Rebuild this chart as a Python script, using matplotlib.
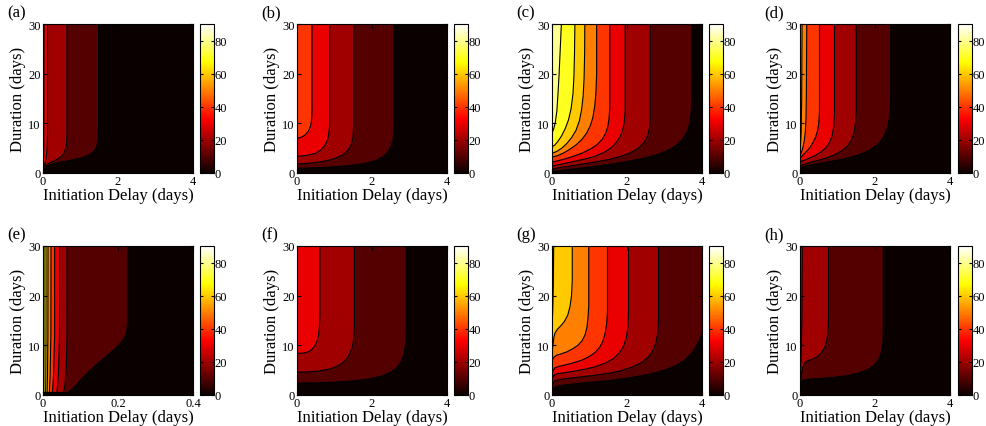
# Эффективность лечения в зависимости от задержки начала и длительности:
# восемь панелей с заливкой контуров (a)-(h), у каждой своя цветовая шкала.

import matplotlib.pyplot as plt
from matplotlib.cm import ScalarMappable
from matplotlib.colors import Normalize

plt.rcParams["font.family"] = ["Liberation Serif", "DejaVu Serif"]

# --- Данные: границы контуров (уровни 10, 20, ...) ---
panel_names = ["(a)", "(b)", "(c)", "(d)", "(e)", "(f)", "(g)", "(h)"]
x_max = [4, 4, 4, 4, 0.4, 4, 4, 4]
x_ticks = [[0, 2, 4]] * 4 + [[0, 0.2, 0.4]] + [[0, 2, 4]] * 3
x_tick_labels = [["0", "2", "4"]] * 4 + [["0", "0.2", "0.4"]] + [["0", "2", "4"]] * 3
y_ticks = [0, 10, 20, 30]
cbar_ticks = [0, 20, 40, 60, 80]

a_levels = [10, 20, 30, 40]
a_x = [[1.48, 1.48, 1.47, 1.44, 1.38, 1.25, 1.0, 0.7, 0.4, 0.2, 0.08, 0],
       [0.64, 0.64, 0.63, 0.60, 0.54, 0.45, 0.32, 0.2, 0.1, 0.03, 0],
       [0.12, 0.12, 0.11, 0.09, 0.06, 0.03, 0],
       [0.027, 0.02, 0.01, 0]]
a_y = [[30, 9, 7, 5.5, 4.5, 3.7, 3.0, 2.5, 2.1, 1.7, 1.2, 0.6],
       [30, 8, 6, 4.8, 3.8, 3.1, 2.5, 2.1, 1.7, 1.3, 1.0],
       [30, 8, 5, 3.5, 2.2, 1.6, 1.2],
       [30, 5, 2.5, 1.4]]

b_levels = [10, 20, 30, 40]
b_x = [[2.59, 2.59, 2.57, 2.52, 2.42, 2.29, 2.1, 1.8, 1.4, 1.0, 0.5, 0],
       [1.51, 1.51, 1.49, 1.44, 1.35, 1.21, 1.0, 0.8, 0.5, 0.2, 0],
       [0.87, 0.87, 0.85, 0.81, 0.74, 0.63, 0.5, 0.36, 0.2, 0],
       [0.40, 0.40, 0.395, 0.38, 0.35, 0.30, 0.22, 0.14, 0.07, 0]]
b_y = [[30, 9.5, 7, 5.5, 4.2, 3.3, 2.5, 1.9, 1.5, 1.25, 1.05, 0.95],
       [30, 9, 7, 5.6, 4.5, 3.6, 2.9, 2.5, 2.1, 1.9, 1.8],
       [30, 10, 8, 6.6, 5.5, 4.6, 4.0, 3.7, 3.5, 3.35],
       [30, 13, 11.5, 10.2, 9.2, 8.4, 7.7, 7.3, 7.1, 7.0]]

c_levels = [10, 20, 30, 40, 50, 60, 70, 80]
c_x = [[3.73, 3.73, 3.71, 3.66, 3.58, 3.46, 3.3, 3.1, 2.8, 2.4, 2.0, 1.5, 1.0, 0.6, 0.25, 0],
       [2.62, 2.62, 2.6, 2.55, 2.46, 2.32, 2.1, 1.86, 1.5, 1.14, 0.8, 0.5, 0.25, 0.1, 0],
       [1.95, 1.95, 1.93, 1.89, 1.82, 1.72, 1.58, 1.4, 1.15, 0.9, 0.6, 0.35, 0.15, 0.05, 0],
       [1.54, 1.54, 1.52, 1.49, 1.43, 1.34, 1.2, 1.02, 0.8, 0.58, 0.38, 0.2, 0.07, 0],
       [1.19, 1.19, 1.17, 1.14, 1.09, 1.02, 0.92, 0.79, 0.63, 0.46, 0.3, 0.15, 0.05, 0],
       [0.875, 0.87, 0.855, 0.83, 0.79, 0.73, 0.64, 0.52, 0.39, 0.26, 0.14, 0.05, 0],
       [0.61, 0.60, 0.585, 0.56, 0.51, 0.44, 0.35, 0.25, 0.15, 0.07, 0],
       [0.25, 0.22, 0.19, 0.16, 0.13, 0.09, 0.05, 0]]
c_y = [[30, 15, 12, 9.6, 8, 6.6, 5.5, 4.6, 3.7, 2.9, 2.3, 1.7, 1.2, 0.85, 0.55, 0.3],
       [30, 11, 9, 7.5, 6.2, 5.1, 4.1, 3.4, 2.7, 2.2, 1.8, 1.45, 1.15, 0.95, 0.8],
       [30, 12.5, 10.5, 8.8, 7.4, 6.2, 5.1, 4.2, 3.4, 2.85, 2.35, 1.95, 1.65, 1.45, 1.35],
       [30, 13, 11, 9.4, 8, 6.8, 5.7, 4.8, 4.0, 3.4, 2.9, 2.55, 2.3, 2.2],
       [30, 20, 16, 13.5, 11.2, 9.5, 8, 6.7, 5.6, 4.7, 4.0, 3.5, 3.3, 3.2],
       [30, 24, 19, 15.5, 12.8, 10.5, 8.6, 7.1, 5.9, 5.0, 4.4, 4.1, 4.0],
       [30, 24, 19.5, 16, 13, 10.7, 8.9, 7.4, 6.3, 5.6, 5.3],
       [30, 25, 20, 16, 12.5, 10.3, 9, 8]]

d_levels = [10, 20, 30, 40, 50, 60]
d_x = [[2.42, 2.42, 2.41, 2.38, 2.32, 2.22, 2.07, 1.85, 1.55, 1.2, 0.8, 0.45, 0.2, 0.05, 0],
       [1.50, 1.50, 1.48, 1.44, 1.37, 1.26, 1.1, 0.9, 0.65, 0.4, 0.2, 0.07, 0],
       [0.92, 0.92, 0.9, 0.86, 0.79, 0.69, 0.55, 0.4, 0.25, 0.12, 0.04, 0],
       [0.52, 0.52, 0.50, 0.47, 0.42, 0.35, 0.27, 0.18, 0.1, 0.04, 0],
       [0.18, 0.17, 0.16, 0.14, 0.11, 0.07, 0.03, 0],
       [0.054, 0.045, 0.03, 0.01, 0]]
d_y = [[30, 16, 13, 10.8, 8.8, 7.1, 5.7, 4.6, 3.6, 2.9, 2.3, 1.85, 1.5, 1.2, 1.0],
       [30, 12.5, 10, 8.1, 6.6, 5.4, 4.4, 3.6, 2.9, 2.4, 2.0, 1.65, 1.4],
       [30, 12, 9.5, 7.6, 6.2, 5.1, 4.2, 3.5, 3.0, 2.6, 2.35, 2.2],
       [30, 12.5, 10, 8.6, 7.3, 6.2, 5.2, 4.4, 3.8, 3.3, 2.9],
       [30, 16, 11, 8.2, 6.3, 4.9, 4.0, 3.6],
       [30, 15, 8, 5, 4.3]]

e_levels = [10, 20, 30, 40, 50, 60, 70, 80]
e_x = [[0.226, 0.226, 0.224, 0.219, 0.21, 0.196, 0.178, 0.158, 0.138, 0.118, 0.1, 0.085,
        0.074, 0.066, 0],
       [0.064, 0.064, 0.062, 0.058, 0.054, 0],
       [0.0444, 0.044, 0.041, 0.037, 0],
       [0.031, 0.031, 0.028, 0.025, 0],
       [0.0213, 0.021, 0.019, 0.017, 0],
       [0.0133, 0.013, 0.012, 0.011, 0],
       [0.008, 0.008, 0.0075, 0.007, 0],
       [0.0027, 0.0027, 0.0025, 0.0023, 0]]
e_y = [[30, 15, 13, 11.8, 10.7, 9.6, 8.4, 7.1, 5.8, 4.4, 3.0, 1.7, 0.9, 0.5, 0.5],
       [30, 12, 5, 1.6, 0.5, 0.5],
       [30, 12, 4, 0.5, 0.5],
       [30, 12, 4, 0.5, 0.5],
       [30, 12, 4, 0.5, 0.5],
       [30, 12, 4, 0.5, 0.5],
       [30, 12, 4, 0.5, 0.5],
       [30, 12, 4, 0.5, 0.5]]

f_levels = [10, 20, 30]
f_x = [[2.91, 2.91, 2.9, 2.86, 2.79, 2.67, 2.5, 2.25, 1.9, 1.5, 1.0, 0.5, 0],
       [1.53, 1.53, 1.52, 1.49, 1.43, 1.34, 1.2, 1.02, 0.8, 0.55, 0.3, 0],
       [0.61, 0.61, 0.60, 0.58, 0.54, 0.48, 0.4, 0.3, 0.18, 0.07, 0]]
f_y = [[30, 13, 10.5, 8.4, 6.9, 5.6, 4.6, 3.8, 3.2, 2.85, 2.6, 2.45, 2.4],
       [30, 14, 12, 10.2, 8.7, 7.4, 6.4, 5.6, 5.1, 4.8, 4.65, 4.6],
       [30, 16, 14, 12.3, 11, 10, 9.2, 8.7, 8.45, 8.4, 8.4]]

g_levels = [10, 20, 30, 40, 50, 60, 70]
g_x = [[4, 3.9, 3.75, 3.55, 3.3, 3.0, 2.6, 2.1, 1.6, 1.1, 0.6, 0.25, 0.1, 0.04, 0.01, 0],
       [2.84, 2.84, 2.82, 2.77, 2.69, 2.56, 2.38, 2.13, 1.8, 1.4, 1.0, 0.6, 0.25, 0.08, 0.03, 0],
       [2.04, 2.04, 2.02, 1.98, 1.91, 1.8, 1.63, 1.41, 1.15, 0.88, 0.6, 0.34, 0.15, 0.06, 0.02, 0],
       [1.48, 1.48, 1.46, 1.42, 1.36, 1.27, 1.14, 0.98, 0.79, 0.58, 0.38, 0.2, 0.08, 0.03, 0],
       [0.98, 0.98, 0.96, 0.93, 0.88, 0.8, 0.69, 0.55, 0.4, 0.25, 0.12, 0.05, 0.02, 0],
       [0.54, 0.54, 0.52, 0.48, 0.42, 0.33, 0.23, 0.14, 0.08, 0.05, 0.03, 0.01, 0],
       [0.045, 0.035, 0.02, 0]]
g_y = [[12.5, 10.5, 8.6, 7.1, 5.9, 5.0, 4.2, 3.5, 3.0, 2.6, 2.25, 1.95, 1.7, 1.3, 0.9, 0.7],
       [30, 15, 12.5, 10.5, 8.9, 7.6, 6.5, 5.6, 4.8, 4.25, 3.85, 3.5, 3.2, 2.9, 2.5, 2.0],
       [30, 16, 13.5, 11.5, 9.9, 8.5, 7.3, 6.4, 5.7, 5.2, 4.8, 4.5, 4.3, 4.0, 3.6, 3.1],
       [30, 17, 14.5, 12.5, 10.9, 9.6, 8.5, 7.7, 7.0, 6.5, 6.1, 5.8, 5.5, 5.0, 4.2],
       [30, 18, 15.5, 13.6, 12.1, 10.9, 10, 9.3, 8.7, 8.3, 8.0, 7.6, 7.2, 6.8],
       [30, 23, 20, 17.8, 16.1, 14.8, 13.9, 13.2, 12.5, 11.6, 10.3, 9.2, 8.5],
       [30, 22, 17, 13.9]]

h_levels = [10, 20, 30]
h_x = [[2.22, 2.22, 2.21, 2.17, 2.1, 1.98, 1.8, 1.55, 1.25, 0.9, 0.55, 0.25, 0.1, 0.04, 0.01, 0],
       [0.76, 0.76, 0.75, 0.72, 0.67, 0.58, 0.46, 0.33, 0.2, 0.12, 0.07, 0.04, 0.02, 0],
       [0.06, 0.05, 0.03, 0]]
h_y = [[30, 13, 10.5, 8.6, 7.2, 6.0, 5.1, 4.4, 3.9, 3.55, 3.35, 3.2, 3.05, 2.6, 1.6, 0.8],
       [30, 15.5, 13, 11.2, 9.8, 8.6, 7.7, 7.2, 6.9, 6.4, 5.5, 4.3, 3.0, 1.6],
       [30, 15, 8, 3.0]]

all_levels = [a_levels, b_levels, c_levels, d_levels, e_levels, f_levels, g_levels, h_levels]
all_x = [a_x, b_x, c_x, d_x, e_x, f_x, g_x, h_x]
all_y = [a_y, b_y, c_y, d_y, e_y, f_y, g_y, h_y]

# цвета полос (как hot в MATLAB), полоса k = значения 10k..10k+10
band_colors = ["#0a0000", "#550000", "#a00000", "#ea0000", "#ff3500",
               "#ff8000", "#ffca00", "#ffff20", "#ffff90"]

W, H = 986, 427
fig = plt.figure(figsize=(W / 100, H / 100), dpi=100)

# положения осей в пикселях: левый край, верх
ax_left = [43, 297, 552, 800]
cb_left = [200, 454, 709, 958]
row_top = [25, 247]
ax_w, ax_h = 150, 149
cb_w = 13.5

norm = Normalize(0, 90)
sm = ScalarMappable(norm=norm, cmap="hot")

for i in range(8):
    row, col = divmod(i, 4)
    top = row_top[row]
    ax = fig.add_axes([ax_left[col] / W, 1 - (top + ax_h) / H, ax_w / W, ax_h / H])
    ax.set_facecolor(band_colors[0])

    # сначала заливка, потом линии
    for lev, xs, ys in zip(all_levels[i], all_x[i], all_y[i]):
        px = xs + [0, xs[0]]
        py = ys + [30, 30]
        ax.fill(px, py, color=band_colors[lev // 10], lw=0)
    for xs, ys in zip(all_x[i], all_y[i]):
        ax.plot(xs, ys, color="black", lw=0.8)

    ax.set_xlim(0, x_max[i])
    ax.set_ylim(0, 30)
    ax.set_xticks(x_ticks[i])
    ax.set_xticklabels(x_tick_labels[i])
    ax.set_yticks(y_ticks)
    ax.tick_params(direction="in", top=True, right=True, length=3,
                   labelsize=9, pad=1.5)
    for s in ax.spines.values():
        s.set_linewidth(0.8)
    ax.set_xlabel("Initiation Delay (days)", fontsize=12, labelpad=0)
    ax.set_ylabel("Duration (days)", fontsize=12, labelpad=2)

    cax = fig.add_axes([cb_left[col] / W, 1 - (top + ax_h) / H, cb_w / W, ax_h / H])
    cb = fig.colorbar(sm, cax=cax, ticks=cbar_ticks)
    cb.outline.set_linewidth(0.8)
    cb.ax.tick_params(direction="in", left=True, right=True, length=2.5,
                      labelsize=9, pad=1)

    fig.text((ax_left[col] - 36) / W, 1 - (top - 12) / H, panel_names[i],
             fontsize=12, va="center", ha="left")

fig.savefig("out.png", dpi=100)
